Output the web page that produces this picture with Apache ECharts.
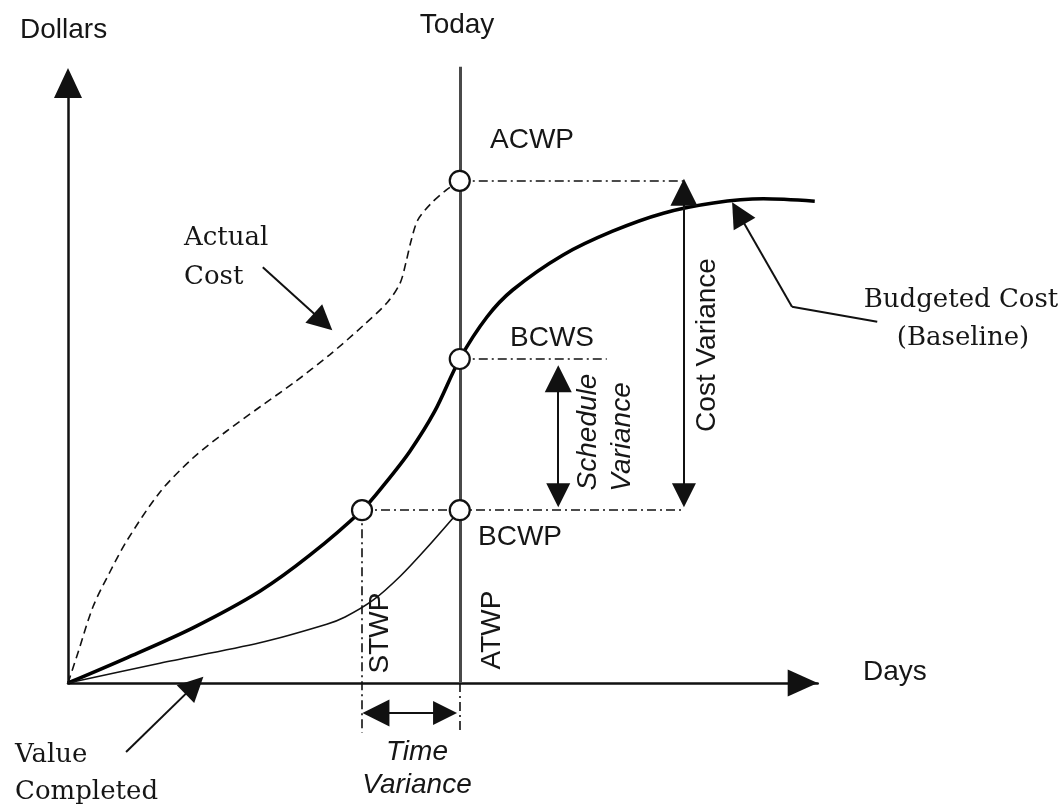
<!DOCTYPE html>
<html>
<head>
<meta charset="utf-8">
<script src="https://cdn.jsdelivr.net/npm/echarts@6/dist/echarts.min.js"></script>
<style>
  html, body { margin: 0; padding: 0; background: #fff; }
  #chart { width: 1064px; height: 812px; }
</style>
</head>
<body>
<div id="chart"></div>
<script>
// [days, dollars], both on a 0-100 scale
const budgetedCost = [
  [0, 0], [8.0, 4.2], [17.0, 9.2], [26.1, 15.3], [32.9, 21.3], [40.0, 28.8],
  [43.1, 33.2], [46.5, 38.6], [49.9, 45.3], [53.3, 54.0], [57.0, 61.0],
  [60.5, 65.5], [67.3, 71.3], [74.1, 75.3], [81.0, 78.3], [87.8, 80.0],
  [94.6, 80.7], [101.6, 80.3]
];
const actualCost = [
  [0, 0], [1.4, 5.2], [3.4, 12.7], [5.7, 18.5], [8.0, 23.7], [12.5, 31.8],
  [17.0, 37.5], [21.6, 42.0], [26.1, 46.0], [30.9, 50.2], [35.6, 54.7],
  [40.1, 59.5], [43.5, 63.5], [45.2, 66.7], [46.0, 70.2], [46.7, 73.8],
  [47.6, 77.2], [49.3, 79.8], [51.3, 82.0], [53.3, 83.7]
];
const valueCompleted = [
  [0, 0], [12.5, 3.3], [26.1, 6.7], [35.2, 9.8], [37.7, 11.0], [41.5, 13.8],
  [45.2, 17.8], [48.8, 22.5], [53.3, 28.8]
];

const today = 53.3;
const stwp = 40.0;
const acwp = 83.7;
const bcws = 54.0;
const bcwp = 28.8;
const costVarX = 83.8;
const schedVarX = 66.7;
const bcwsEnd = 73.3;
const todayTop = 102.7;
const belowAxis = -8.3;

const markers = [[today, acwp], [today, bcws], [today, bcwp], [stwp, bcwp]];

const guides = [
  [[today, acwp], [costVarX, acwp]],
  [[today, bcws], [bcwsEnd, bcws]],
  [[stwp, bcwp], [costVarX, bcwp]],
  [[stwp, bcwp], [stwp, belowAxis]],
  [[today, 0], [today, belowAxis]]
];

const doubleArrows = [
  [[costVarX, 81.8], [costVarX, 31.3]],
  [[schedVarX, 50.7], [schedVarX, 31.3]],
  [[41.9, -5.0], [51.3, -5.0]]
];

const pointers = [
  [[26.5, 69.3], [34.7, 60.2]],
  [[7.9, -11.5], [17.2, -0.4]],
  [[98.5, 62.7], [91.2, 78.3]]
];
const pointerTail = [[[110.1, 60.2], [98.5, 62.7]]];

const INK = '#111';
const SANS = '"Liberation Sans", Arial, sans-serif';
const SERIF = '"DejaVu Serif", serif';

function label(text, x, y, opts) {
  const o = opts || {};
  return {
    type: 'text',
    x: x,
    y: y,
    rotation: o.rotate ? Math.PI / 2 : 0,
    z: 100,
    style: {
      text: text,
      font: (o.italic ? 'italic ' : '') + (o.size || 28) + 'px ' + (o.serif ? SERIF : SANS),
      fill: '#161616',
      align: o.align || 'center',
      textAlign: o.align || 'center',
      verticalAlign: 'middle',
      textVerticalAlign: 'middle'
    }
  };
}

const segs = (arr) => arr.map((c) => ({ coords: c }));

const chart = echarts.init(document.getElementById('chart'), null, { renderer: 'canvas' });

chart.setOption({
  backgroundColor: '#fff',
  animation: false,
  // 7.35 px per day unit, 6 px per dollar unit
  grid: { left: 68, right: 246.3, top: 83, bottom: 129, outerBoundsMode: 'none' },
  xAxis: {
    type: 'value', min: 0, max: 102,
    axisLine: {
      show: true, symbol: ['none', 'triangle'], symbolSize: [27, 30], symbolOffset: [0, -15],
      lineStyle: { color: INK, width: 2.5 }
    },
    axisTick: { show: false }, axisLabel: { show: false }, splitLine: { show: false }
  },
  yAxis: {
    type: 'value', min: 0, max: 100,
    axisLine: { show: true, symbol: ['none', 'triangle'], symbolSize: [28, 30], lineStyle: { color: INK, width: 2.5 } },
    axisTick: { show: false }, axisLabel: { show: false }, splitLine: { show: false }
  },
  series: [
    {
      type: 'lines', coordinateSystem: 'cartesian2d', clip: false, z: 2,
      lineStyle: { color: '#4a4a4a', width: 3, opacity: 1 },
      data: segs([[[today, 0], [today, todayTop]]])
    },
    {
      type: 'lines', coordinateSystem: 'cartesian2d', clip: false, z: 2,
      lineStyle: { color: INK, width: 1.6, type: [9, 4, 2, 4], opacity: 1 },
      data: segs(guides)
    },
    {
      type: 'line', data: budgetedCost, smooth: 0.3, showSymbol: false, clip: false, z: 3,
      lineStyle: { color: '#000', width: 3.6 }
    },
    {
      type: 'line', data: actualCost, smooth: 0.3, showSymbol: false, clip: false, z: 3,
      lineStyle: { color: INK, width: 1.6, type: [8, 5] }
    },
    {
      type: 'line', data: valueCompleted, smooth: 0.3, showSymbol: false, clip: false, z: 3,
      lineStyle: { color: INK, width: 1.6 }
    },
    {
      type: 'lines', coordinateSystem: 'cartesian2d', clip: false, z: 4,
      symbol: ['triangle', 'triangle'], symbolSize: [27, 24],
      lineStyle: { color: INK, width: 2, opacity: 1 },
      data: segs(doubleArrows)
    },
    {
      type: 'lines', coordinateSystem: 'cartesian2d', clip: false, z: 4,
      symbol: ['none', 'triangle'], symbolSize: [26, 25],
      lineStyle: { color: INK, width: 2, opacity: 1 },
      data: segs(pointers)
    },
    {
      type: 'lines', coordinateSystem: 'cartesian2d', clip: false, z: 4,
      symbol: 'none',
      lineStyle: { color: INK, width: 2, opacity: 1 },
      data: segs(pointerTail)
    },
    {
      type: 'scatter', data: markers, symbol: 'circle', symbolSize: 20, z: 6, clip: false,
      itemStyle: { color: '#fff', borderColor: INK, borderWidth: 2.2, opacity: 1 }
    }
  ],
  graphic: [
    label('Dollars', 20, 30, { align: 'left' }),
    label('Today', 457, 25),
    label('ACWP', 490, 140, { align: 'left' }),
    label('BCWS', 510, 338, { align: 'left' }),
    label('BCWP', 478, 537, { align: 'left' }),
    label('STWP', 380, 633, { rotate: true }),
    label('ATWP', 492, 630, { rotate: true }),
    label('Schedule', 588, 432, { rotate: true, italic: true }),
    label('Variance', 622, 437, { rotate: true, italic: true }),
    label('Cost Variance', 707, 345, { rotate: true }),
    label('Time', 417, 752, { italic: true }),
    label('Variance', 417, 785, { italic: true }),
    label('Days', 863, 672, { align: 'left' }),
    label('Actual', 184, 238, { align: 'left', serif: true, size: 26 }),
    label('Cost', 184, 277, { align: 'left', serif: true, size: 26 }),
    label('Budgeted Cost', 961, 300, { serif: true, size: 26 }),
    label('(Baseline)', 963, 338, { serif: true, size: 26 }),
    label('Value', 15, 755, { align: 'left', serif: true, size: 26 }),
    label('Completed', 15, 792, { align: 'left', serif: true, size: 26 })
  ]
});
</script>
</body>
</html>
